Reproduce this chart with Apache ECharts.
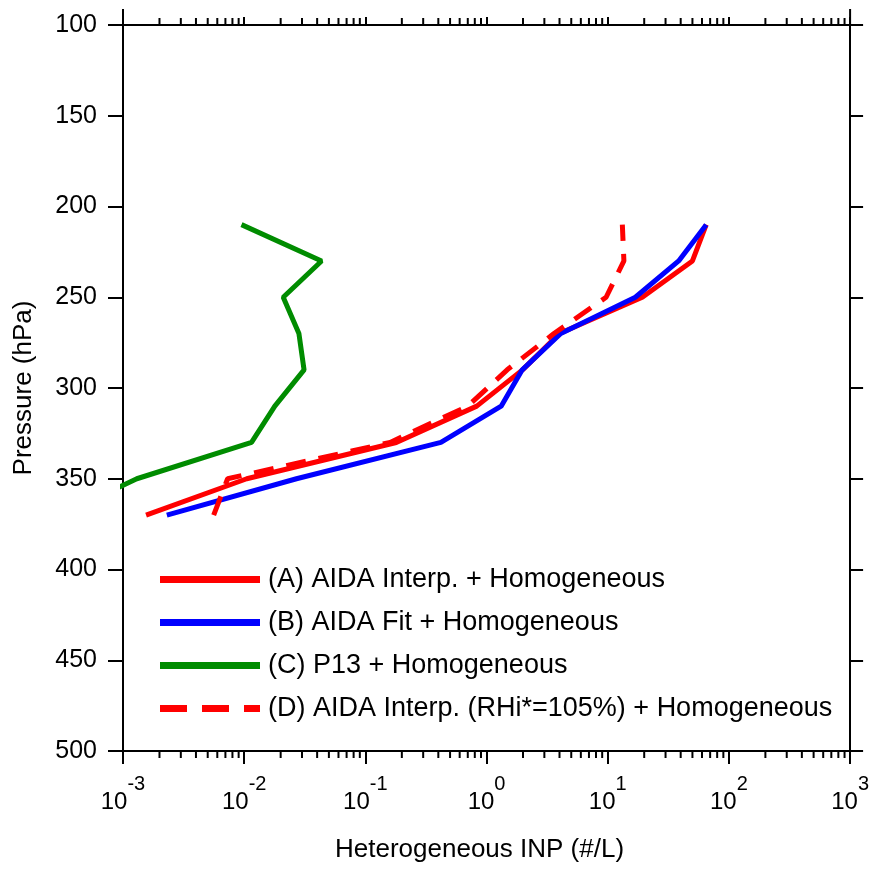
<!DOCTYPE html>
<html>
<head>
<meta charset="utf-8">
<script src="https://cdn.jsdelivr.net/npm/echarts@6/dist/echarts.min.js"></script>
<style>
html,body{margin:0;padding:0;background:#fff;}
#chart{width:872px;height:869px;}
</style>
</head>
<body>
<div id="chart"></div>
<script>
// Pressure levels (hPa) and heterogeneous INP concentrations (#/L)
const pressureA = [370, 350, 330, 310, 290, 270, 250, 230, 210];
const inpA      = [1.55e-3, 0.0105, 0.18, 0.83, 1.98, 4.0, 19.3, 50, 65];

const pressureB = [370, 350, 330, 310, 290, 270, 250, 230, 210];
const inpB      = [2.3e-3, 0.027, 0.42, 1.32, 1.97, 4.1, 16.9, 38.5, 65];

const pressureC = [210, 230, 250, 270, 290, 310, 330, 350, 370];
const inpC      = [9.5e-3, 0.0435, 0.021, 0.0283, 0.0312, 0.0179, 0.0115, 1.3e-3, 3e-4];

const pressureD = [370, 350, 330, 310, 290, 270, 250, 230, 210];
const inpD      = [5.6e-3, 7.3e-3, 0.16, 0.70, 1.48, 3.6, 9.7, 13.6, 13.2];

const seriesNames = [
  '(A) AIDA Interp. + Homogeneous',
  '(B) AIDA Fit + Homogeneous',
  '(C) P13 + Homogeneous',
  '(D) AIDA Interp. (RHi*=105%) + Homogeneous'
];

const xMin = 1e-3, xMax = 1e3;
const yMin = 100, yMax = 500, yStep = 50;

const FONT = 'Liberation Sans, Arial, sans-serif';

// minor tick values for log axis (2..9 per decade)
const minorTicks = [];
for (let e = -3; e < 3; e++) {
  for (let m = 2; m <= 9; m++) minorTicks.push([m * Math.pow(10, e)]);
}
const endTicks = [[xMin], [xMax]];

function pairs(xs, ys) { return xs.map((v, i) => [v, ys[i]]); }

const chart = echarts.init(document.getElementById('chart'), null, {renderer: 'canvas'});

const axisLineStyle = {color: '#000', width: 2};
const solidIcon = 'path://M0,0H100V7H0Z';
const dashIcon = 'path://M0,0H27V7H0Z M42,0H69V7H42Z M84,0H100V7H84Z';

chart.setOption({
  backgroundColor: '#fff',
  animation: false,
  textStyle: {fontFamily: FONT},
  grid: {left: 123, right: 21, top: 25, bottom: 118, containLabel: false},
  xAxis: [
    {
      type: 'log', logBase: 10, min: xMin, max: xMax, position: 'bottom',
      name: 'Heterogeneous INP (#/L)', nameLocation: 'middle', nameGap: 86,
      nameTextStyle: {fontSize: 26, color: '#000', fontFamily: FONT, padding: [0, 14, 0, 0]},
      axisLine: {show: true, onZero: false, lineStyle: axisLineStyle},
      axisTick: {show: true, inside: false, length: 13, lineStyle: {color: '#000', width: 2}},
      splitLine: {show: false},
      axisLabel: {
        margin: 23, color: '#000',
        formatter: function (v) {
          const e = Math.round(Math.log10(v));
          return '{b|10}{s|' + e + '}';
        },
        rich: {
          b: {fontSize: 24, fontFamily: FONT, color: '#000', lineHeight: 40, verticalAlign: 'bottom'},
          s: {fontSize: 20, fontFamily: FONT, color: '#000', lineHeight: 40, verticalAlign: 'top'}
        }
      }
    },
    {
      type: 'log', logBase: 10, min: xMin, max: xMax, position: 'top',
      axisLine: {show: true, onZero: false, lineStyle: axisLineStyle},
      axisTick: {show: true, inside: false, length: 8, lineStyle: {color: '#000', width: 2}},
      axisLabel: {show: false},
      splitLine: {show: false}
    }
  ],
  yAxis: [
    {
      type: 'value', min: yMin, max: yMax, interval: yStep, inverse: true, position: 'left',
      name: 'Pressure (hPa)', nameLocation: 'middle', nameGap: 86, nameRotate: 90,
      nameTextStyle: {fontSize: 26, color: '#000', fontFamily: FONT},
      axisLine: {show: true, onZero: false, lineStyle: axisLineStyle},
      axisTick: {show: true, inside: false, length: 15, lineStyle: {color: '#000', width: 2}},
      axisLabel: {margin: 26, fontSize: 25, color: '#000', fontFamily: FONT},
      splitLine: {show: false}
    },
    {
      type: 'value', min: yMin, max: yMax, interval: yStep, inverse: true, position: 'right',
      axisLine: {show: true, onZero: false, lineStyle: axisLineStyle},
      axisTick: {show: true, inside: false, length: 13, lineStyle: {color: '#000', width: 2}},
      axisLabel: {show: false},
      splitLine: {show: false}
    }
  ],
  legend: {
    orient: 'vertical', left: 155, top: 559,
    itemWidth: 100, itemHeight: 7, itemGap: 12,
    symbolKeepAspect: false,
    textStyle: {fontSize: 27, color: '#000', fontFamily: FONT, lineHeight: 31, padding: [0, 0, 0, 3]},
    data: [
      {name: seriesNames[0], icon: solidIcon},
      {name: seriesNames[1], icon: solidIcon},
      {name: seriesNames[2], icon: solidIcon},
      {name: seriesNames[3], icon: dashIcon}
    ]
  },
  series: [
    {
      name: seriesNames[0], type: 'line', xAxisIndex: 0, yAxisIndex: 0,
      data: pairs(inpA, pressureA), symbol: 'none', clip: true,
      lineStyle: {color: '#ff0000', width: 5}, itemStyle: {color: '#ff0000'}, z: 3
    },
    {
      name: seriesNames[1], type: 'line', xAxisIndex: 0, yAxisIndex: 0,
      data: pairs(inpB, pressureB), symbol: 'none', clip: true,
      lineStyle: {color: '#0000ff', width: 5}, itemStyle: {color: '#0000ff'}, z: 4
    },
    {
      name: seriesNames[2], type: 'line', xAxisIndex: 0, yAxisIndex: 0,
      data: pairs(inpC, pressureC), symbol: 'none', clip: true,
      lineStyle: {color: '#008c00', width: 5}, itemStyle: {color: '#008c00'}, z: 3
    },
    {
      name: seriesNames[3], type: 'line', xAxisIndex: 0, yAxisIndex: 0,
      data: pairs(inpD, pressureD), symbol: 'none', clip: true,
      lineStyle: {color: '#ff0000', width: 5, type: [20, 13]}, itemStyle: {color: '#ff0000'}, z: 5
    },
    {
      // minor ticks on bottom and top log axes
      type: 'custom', xAxisIndex: 0, yAxisIndex: 0, silent: true, clip: false,
      data: minorTicks,
      renderItem: function (params, api) {
        const b = api.coord([api.value(0), yMax]);
        const t = api.coord([api.value(0), yMin]);
        return {
          type: 'group',
          children: [
            {type: 'line', shape: {x1: b[0], y1: b[1], x2: b[0], y2: b[1] + 7}, style: {stroke: '#000', lineWidth: 2}},
            {type: 'line', shape: {x1: t[0], y1: t[1], x2: t[0], y2: t[1] - 7}, style: {stroke: '#000', lineWidth: 2}}
          ]
        };
      }
    },
    {
      // longer end ticks at the top corners
      type: 'custom', xAxisIndex: 0, yAxisIndex: 0, silent: true, clip: false,
      data: endTicks,
      renderItem: function (params, api) {
        const t = api.coord([api.value(0), yMin]);
        return {
          type: 'line',
          shape: {x1: t[0], y1: t[1], x2: t[0], y2: t[1] - 16},
          style: {stroke: '#000', lineWidth: 2}
        };
      }
    }
  ]
});
</script>
</body>
</html>
